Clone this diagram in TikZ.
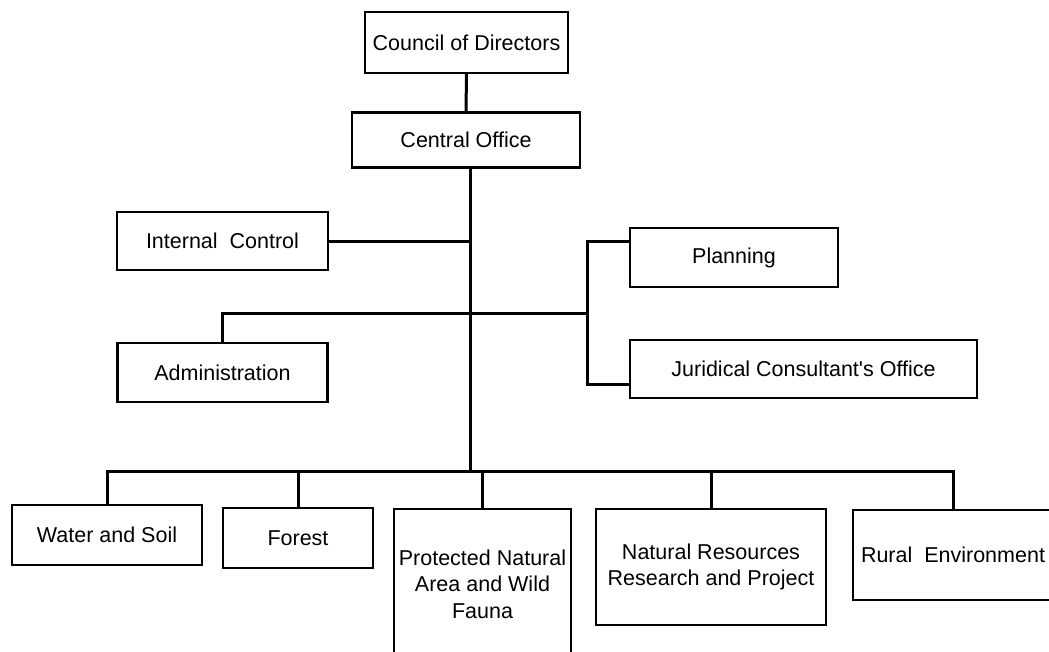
\documentclass[tikz,border=0pt]{standalone}
\usepackage{fontspec}
\setmainfont[Ligatures=NoCommon]{Liberation Sans}
\usetikzlibrary{calc}
\begin{document}
\begin{tikzpicture}[x=1pt,y=-1pt,
  box/.style={draw, line width=2.4pt, rectangle, inner sep=1pt, align=center,
    font=\fontsize{21.5}{26.5}\selectfont},
  conn/.style={line width=3pt}]
\useasboundingbox (0,0) rectangle (1049,651);
\clip (0,0) rectangle (1049,651);
\node[box, minimum width=203, minimum height=61] (council) at (466.5,42.5) {Council of Directors};
\node[box, minimum width=228, minimum height=55] (central) at (466,140) {Central Office};
\node[box, minimum width=211, minimum height=58] (internal) at (222.5,241) {Internal\ \ Control};
\node[box, minimum width=210, minimum height=59] (admin) at (222.5,372.5) {Administration};
\node[box, minimum width=208, minimum height=59] (planning) at (734,257.5) {Planning};
\node[box, minimum width=347, minimum height=58] (jurid) at (803.5,369) {Juridical Consultant\textquotesingle s Office};
\node[box, minimum width=190, minimum height=60] (water) at (107,535) {Water and Soil};
\node[box, minimum width=150, minimum height=60] (forest) at (298,538) {Forest};
\node[box, minimum width=177, minimum height=150] (protected) at (482.5,584) {Protected Natural\\Area and Wild\\Fauna};
\node[box, minimum width=230, minimum height=116] (natres) at (711,567) {Natural Resources\\Research and Project};
\node[box, minimum width=200, minimum height=90] (rural) at (953,555) {Rural\ \ Environment};
\coordinate (spine) at (470,471);
\coordinate (brk) at (587,313);
\draw[conn] (council.south) -- (central.north);
\draw[conn] (central.south -| spine) -- (spine);
\draw[conn] (internal.east) -- (internal.east -| spine);
\draw[conn] (admin.north) |- (brk);
\draw[conn] ($(planning.north west)+(0,15)$) -| (brk) |- ($(jurid.south west)+(0,-15)$);
\draw[conn] (water.north) |- (rural.north |- spine) -- (rural.north);
\draw[conn] (forest.north) -- (forest.north |- spine);
\draw[conn] (protected.north) -- (protected.north |- spine);
\draw[conn] (natres.north) -- (natres.north |- spine);
\end{tikzpicture}
\end{document}
